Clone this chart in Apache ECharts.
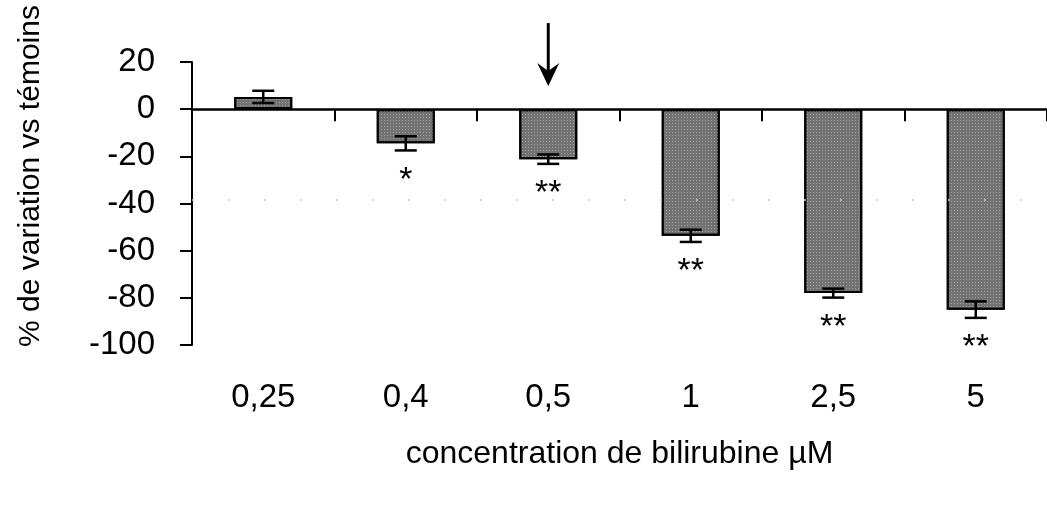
<!DOCTYPE html>
<html>
<head>
<meta charset="utf-8">
<script src="https://cdn.jsdelivr.net/npm/echarts@6/dist/echarts.min.js"></script>
<style>
html,body{margin:0;padding:0;background:#fff;}
#chart{width:1047px;height:519px;}
</style>
</head>
<body>
<div id="chart"></div>
<script>
// ---- data ----
var categories = ['0,25', '0,4', '0,5', '1', '2,5', '5'];
var meanValues = [5.2, -14.5, -21.2, -53.7, -78, -85];
var errValues = [2.6, 3.0, 2.0, 2.6, 1.9, 3.5];
var signif = ['', '*', '**', '**', '**', '**'];
var yTicks = [-100, -80, -60, -40, -20, 0, 20];
var arrowCategory = '0,5';
var arrowFrom = 36.5;
var arrowTo = 9.8;
var artifactLine = -38.5;

var FONT = "'Liberation Sans', Arial, sans-serif";
var arrowIndex = categories.indexOf(arrowCategory);

var errData = meanValues.map(function (v, i) { return [i, v, errValues[i]]; });

var chart = echarts.init(document.getElementById('chart'), null, { renderer: 'canvas' });
chart.setOption({
  backgroundColor: '#ffffff',
  animation: false,
  grid: { left: 192, top: 62, width: 858, height: 283, containLabel: false },
  xAxis: [
    {
      type: 'category', data: categories, position: 'bottom',
      axisLine: { show: true, onZero: true, lineStyle: { color: '#000', width: 2.5 } },
      axisTick: { show: true, length: 12, lineStyle: { color: '#000', width: 2 } },
      axisLabel: { show: false },
      splitLine: { show: false }
    },
    {
      type: 'category', data: categories, position: 'bottom',
      axisLine: { show: false, onZero: false },
      axisTick: { show: false },
      axisLabel: { show: true, margin: 36, fontSize: 33, color: '#000', fontFamily: FONT },
      splitLine: { show: false },
      name: 'concentration de bilirubine \u00b5M',
      nameLocation: 'middle', nameGap: 93,
      nameTextStyle: { fontSize: 32, color: '#000', fontFamily: FONT }
    }
  ],
  yAxis: {
    type: 'value', min: yTicks[0], max: yTicks[yTicks.length - 1], interval: 20,
    axisLine: { show: true, lineStyle: { color: '#000', width: 2 } },
    axisTick: { show: true, length: 12, lineStyle: { color: '#000', width: 2 } },
    axisLabel: { show: true, margin: 37, fontSize: 33, color: '#000', fontFamily: FONT },
    splitLine: { show: false }
  },
  graphic: [{
    type: 'text', x: 31, y: 176, rotation: Math.PI / 2,
    style: {
      text: '% de variation vs t\u00e9moins', font: '30px ' + FONT, fill: '#000',
      align: 'center', verticalAlign: 'middle'
    }
  }],
  series: [
    {
      type: 'bar', xAxisIndex: 0, data: meanValues, barWidth: 58,
      itemStyle: {
        color: '#727272', borderColor: '#000', borderWidth: 2,
        decal: { symbol: 'rect', symbolSize: 1, color: 'rgba(255,255,255,0.35)', dashArrayX: [1, 2], dashArrayY: [1, 2], rotation: 0 }
      },
      z: 2
    },
    {
      type: 'custom', xAxisIndex: 0, data: errData, z: 5, clip: false,
      renderItem: function (params, api) {
        var x = api.value(0), m = api.value(1), e = api.value(2);
        var hi = api.coord([x, m + e]);
        var lo = api.coord([x, m - e]);
        var cw = 11;
        var st = { stroke: '#000', lineWidth: 2.5 };
        var children = [
          { type: 'line', shape: { x1: hi[0], y1: hi[1], x2: lo[0], y2: lo[1] }, style: st },
          { type: 'line', shape: { x1: hi[0] - cw, y1: hi[1], x2: hi[0] + cw, y2: hi[1] }, style: st },
          { type: 'line', shape: { x1: lo[0] - cw, y1: lo[1], x2: lo[0] + cw, y2: lo[1] }, style: st }
        ];
        var s = signif[params.dataIndex];
        if (s) {
          children.push({
            type: 'text', x: lo[0], y: lo[1] + 30,
            style: { text: s, font: '34px ' + FONT, fill: '#000', align: 'center', verticalAlign: 'middle' }
          });
        }
        if (params.dataIndex === arrowIndex) {
          var a0 = api.coord([arrowIndex, arrowFrom]);
          var a1 = api.coord([arrowIndex, arrowTo]);
          children.push({ type: 'line', shape: { x1: a0[0], y1: a0[1], x2: a1[0], y2: a1[1] - 12 }, style: { stroke: '#000', lineWidth: 3 } });
          children.push({
            type: 'polygon',
            shape: { points: [[a1[0], a1[1]], [a1[0] - 11, a1[1] - 23], [a1[0], a1[1] - 15], [a1[0] + 11, a1[1] - 23]] },
            style: { fill: '#000' }
          });
        }
        return { type: 'group', children: children };
      },
      markLine: {
        silent: true, animation: false, symbol: ['none', 'none'],
        label: { show: false },
        lineStyle: { color: '#c8c8c8', width: 1.5, type: [2, 34] },
        data: [{ yAxis: artifactLine }]
      }
    }
  ]
});
</script>
</body>
</html>
